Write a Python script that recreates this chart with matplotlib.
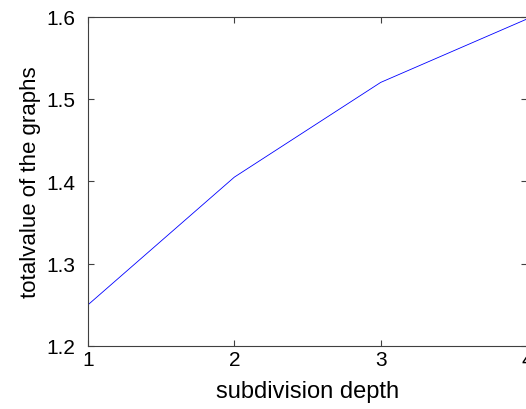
import matplotlib
matplotlib.use('Agg')
import matplotlib.pyplot as plt

# subdivision depth vs total value
depth = [1, 2, 3, 4]
total_value = [1.25, 1.405, 1.52, 1.597]

xticks = [1, 2, 3, 4]
yticks = [1.2, 1.3, 1.4, 1.5, 1.6]

plt.rcParams['font.family'] = ['Liberation Sans', 'DejaVu Sans']

fig = plt.figure(figsize=(5.26, 4.10), dpi=100)
ax = fig.add_axes([88 / 526, 63 / 410, 1.0 - 88 / 526 + 0.002, 329.5 / 410])

ax.plot(depth, total_value, color='#0000ff', lw=0.6)

ax.set_xlim(1, 4)
ax.set_ylim(1.2, 1.6)
ax.set_xticks(xticks)
ax.set_yticks(yticks)
ax.set_xticklabels([str(t) for t in xticks])
ax.set_yticklabels([f'{t:.1f}' for t in yticks])

for s in ax.spines.values():
    s.set_color('#404040')
    s.set_linewidth(0.8)
ax.tick_params(direction='in', length=4, width=0.8, color='#404040',
               top=True, right=True, labelsize=15, pad=3)
ax.tick_params(axis='y', pad=9)

ax.set_xlabel('subdivision depth', fontsize=17, labelpad=8)
ax.set_ylabel('totalvalue of the graphs', fontsize=16, labelpad=4)

fig.savefig('out.png', dpi=100)
